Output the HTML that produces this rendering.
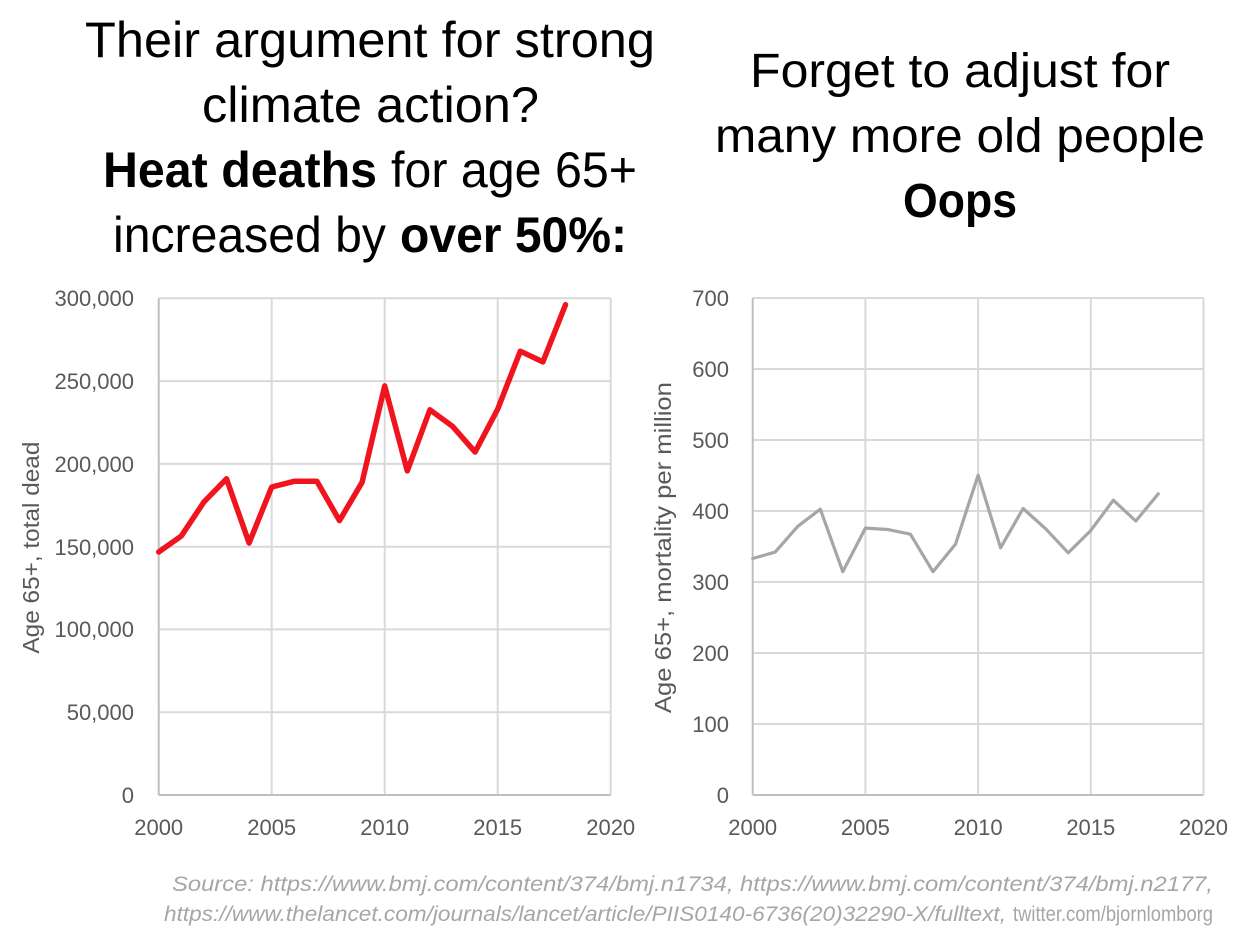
<!DOCTYPE html>
<html>
<head>
<meta charset="utf-8">
<style>
  html, body { margin:0; padding:0; background:#ffffff; }
  body { width:1240px; height:937px; overflow:hidden; }
  svg { display:block; }
  text { font-family: "Liberation Sans", Arial, sans-serif; }
</style>
</head>
<body>
<svg width="1240" height="937" viewBox="0 0 1240 937" xmlns="http://www.w3.org/2000/svg">
  <rect x="0" y="0" width="1240" height="937" fill="#ffffff"/>

  <!-- Left title -->
  <g fill="#000000" font-size="50">
    <text x="85" y="57" textLength="570" lengthAdjust="spacingAndGlyphs">Their argument for strong</text>
    <text x="202" y="122" textLength="337" lengthAdjust="spacingAndGlyphs">climate action?</text>
    <text x="103" y="187" font-weight="bold" textLength="274" lengthAdjust="spacingAndGlyphs">Heat deaths</text>
    <text x="391" y="187" textLength="246" lengthAdjust="spacingAndGlyphs">for age 65+</text>
    <text x="113" y="252" textLength="273" lengthAdjust="spacingAndGlyphs">increased by</text>
    <text x="400" y="252" font-weight="bold" textLength="227" lengthAdjust="spacingAndGlyphs">over 50%:</text>
  </g>

  <!-- Right title -->
  <g fill="#000000" font-size="48">
    <text x="750" y="87" textLength="420" lengthAdjust="spacingAndGlyphs">Forget to adjust for</text>
    <text x="715" y="152" textLength="490" lengthAdjust="spacingAndGlyphs">many more old people</text>
    <text x="903" y="217" font-weight="bold" textLength="114" lengthAdjust="spacingAndGlyphs">Oops</text>
  </g>

  <!-- LEFT CHART -->
  <g stroke="#d9d9d9" stroke-width="2" fill="none">
    <line x1="158.7" y1="298.3" x2="610.7" y2="298.3"/>
    <line x1="158.7" y1="381.1" x2="610.7" y2="381.1"/>
    <line x1="158.7" y1="463.9" x2="610.7" y2="463.9"/>
    <line x1="158.7" y1="546.7" x2="610.7" y2="546.7"/>
    <line x1="158.7" y1="629.4" x2="610.7" y2="629.4"/>
    <line x1="158.7" y1="712.2" x2="610.7" y2="712.2"/>
    <line x1="271.7" y1="298.3" x2="271.7" y2="795"/>
    <line x1="384.7" y1="298.3" x2="384.7" y2="795"/>
    <line x1="497.7" y1="298.3" x2="497.7" y2="795"/>
    <line x1="610.7" y1="298.3" x2="610.7" y2="795"/>
  </g>
  <g stroke="#bfbfbf" stroke-width="2" fill="none">
    <line x1="158.7" y1="298.3" x2="158.7" y2="795"/>
    <line x1="158.7" y1="795" x2="610.7" y2="795"/>
  </g>
  <polyline fill="none" stroke="#f0141e" stroke-width="5.5" stroke-linejoin="round" stroke-linecap="round"
    points="158.7,552 181.3,536 203.9,502 226.5,478.8 249.1,543 271.7,487 294.3,481.3 316.9,481.3 339.5,520.6 362.1,482.3 384.7,385.9 407.3,470.9 429.9,409.8 452.5,426.3 475.1,452 497.7,409.1 520.3,351.2 542.9,361.9 565.5,304.7"/>
  <g fill="#595959" font-size="22" text-anchor="end">
    <text x="134" y="306">300,000</text>
    <text x="134" y="389">250,000</text>
    <text x="134" y="472">200,000</text>
    <text x="134" y="555">150,000</text>
    <text x="134" y="637">100,000</text>
    <text x="134" y="720">50,000</text>
    <text x="134" y="803">0</text>
  </g>
  <g fill="#595959" font-size="22" text-anchor="middle">
    <text x="158.7" y="835">2000</text>
    <text x="271.7" y="835">2005</text>
    <text x="384.7" y="835">2010</text>
    <text x="497.7" y="835">2015</text>
    <text x="610.7" y="835">2020</text>
  </g>
  <text transform="translate(39,547.6) rotate(-90)" fill="#595959" font-size="23" text-anchor="middle" textLength="212" lengthAdjust="spacingAndGlyphs">Age 65+, total dead</text>

  <!-- RIGHT CHART -->
  <g stroke="#d9d9d9" stroke-width="2" fill="none">
    <line x1="752.7" y1="298" x2="1203.5" y2="298"/>
    <line x1="752.7" y1="369" x2="1203.5" y2="369"/>
    <line x1="752.7" y1="440" x2="1203.5" y2="440"/>
    <line x1="752.7" y1="511" x2="1203.5" y2="511"/>
    <line x1="752.7" y1="582" x2="1203.5" y2="582"/>
    <line x1="752.7" y1="653" x2="1203.5" y2="653"/>
    <line x1="752.7" y1="724" x2="1203.5" y2="724"/>
    <line x1="865.4" y1="298" x2="865.4" y2="795"/>
    <line x1="978.1" y1="298" x2="978.1" y2="795"/>
    <line x1="1090.8" y1="298" x2="1090.8" y2="795"/>
    <line x1="1203.5" y1="298" x2="1203.5" y2="795"/>
  </g>
  <g stroke="#bfbfbf" stroke-width="2" fill="none">
    <line x1="752.7" y1="298" x2="752.7" y2="795"/>
    <line x1="752.7" y1="795" x2="1203.5" y2="795"/>
  </g>
  <polyline fill="none" stroke="#a6a6a6" stroke-width="3.2" stroke-linejoin="round" stroke-linecap="round"
    points="752.7,558.5 775.2,552.1 797.8,526.3 820.3,509.2 842.8,571.7 865.4,528.1 887.9,529.5 910.4,534.2 933,571.7 955.5,544.2 978.1,475.2 1000.6,547.8 1023.1,508.5 1045.7,528.8 1068.2,552.8 1090.7,530.6 1113.3,500.2 1135.8,521 1158.3,493.8"/>
  <g fill="#595959" font-size="22" text-anchor="end">
    <text x="729" y="306">700</text>
    <text x="729" y="377">600</text>
    <text x="729" y="448">500</text>
    <text x="729" y="519">400</text>
    <text x="729" y="590">300</text>
    <text x="729" y="661">200</text>
    <text x="729" y="732">100</text>
    <text x="729" y="803">0</text>
  </g>
  <g fill="#595959" font-size="22" text-anchor="middle">
    <text x="752.7" y="835">2000</text>
    <text x="865.4" y="835">2005</text>
    <text x="978.1" y="835">2010</text>
    <text x="1090.8" y="835">2015</text>
    <text x="1203.5" y="835">2020</text>
  </g>
  <text transform="translate(671,547.6) rotate(-90)" fill="#595959" font-size="23" text-anchor="middle" textLength="331" lengthAdjust="spacingAndGlyphs">Age 65+,  mortality per million</text>

  <!-- Source -->
  <g fill="#a6a6a6" font-size="21">
    <text x="172" y="891" font-style="italic" textLength="1041" lengthAdjust="spacingAndGlyphs">Source: https://www.bmj.com/content/374/bmj.n1734, https://www.bmj.com/content/374/bmj.n2177,</text>
    <text x="164" y="921" font-style="italic" textLength="842" lengthAdjust="spacingAndGlyphs">https://www.thelancet.com/journals/lancet/article/PIIS0140-6736(20)32290-X/fulltext,</text>
    <text x="1013" y="921" textLength="200" lengthAdjust="spacingAndGlyphs">twitter.com/bjornlomborg</text>
  </g>
</svg>
</body>
</html>
